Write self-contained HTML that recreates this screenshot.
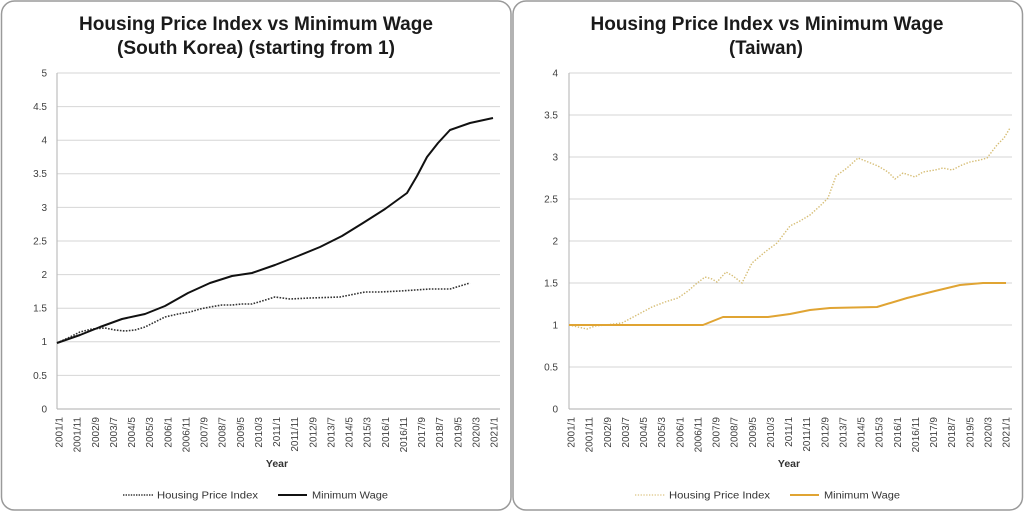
<!DOCTYPE html>
<html><head><meta charset="utf-8"><style>
html,body{margin:0;padding:0;background:#fff;}
svg{display:block;font-family:"Liberation Sans",sans-serif;}
</style></head><body>
<svg width="1024" height="512" viewBox="0 0 1024 512" xmlns="http://www.w3.org/2000/svg">
<rect x="0" y="0" width="1024" height="512" fill="#fff"/>
<rect x="1.5" y="1" width="509.5" height="509" rx="13" ry="13" fill="#fff" stroke="#9a9a9a" stroke-width="1.5"/>
<rect x="513" y="1" width="509.5" height="509" rx="13" ry="13" fill="#fff" stroke="#9a9a9a" stroke-width="1.5"/>

<!-- LEFT CHART -->
<g font-weight="bold" fill="#1a1a1a" font-size="19" text-anchor="middle">
<text x="256" y="30" textLength="354" lengthAdjust="spacingAndGlyphs">Housing Price Index vs Minimum Wage</text>
<text x="256" y="54" textLength="278" lengthAdjust="spacingAndGlyphs">(South Korea) (starting from 1)</text>
</g>
<g stroke="#d6d6d6" stroke-width="1">
<line x1="57" y1="73" x2="500" y2="73"/>
<line x1="57" y1="106.6" x2="500" y2="106.6"/>
<line x1="57" y1="140.2" x2="500" y2="140.2"/>
<line x1="57" y1="173.8" x2="500" y2="173.8"/>
<line x1="57" y1="207.4" x2="500" y2="207.4"/>
<line x1="57" y1="241" x2="500" y2="241"/>
<line x1="57" y1="274.6" x2="500" y2="274.6"/>
<line x1="57" y1="308.2" x2="500" y2="308.2"/>
<line x1="57" y1="341.8" x2="500" y2="341.8"/>
<line x1="57" y1="375.4" x2="500" y2="375.4"/>
</g>
<g stroke="#bdbdbd" stroke-width="1.2">
<line x1="57" y1="73" x2="57" y2="409"/>
<line x1="57" y1="409" x2="500" y2="409"/>
</g>
<g font-size="10" fill="#404040" text-anchor="end">
<text x="47" y="76.5">5</text>
<text x="47" y="110">4.5</text>
<text x="47" y="143.5">4</text>
<text x="47" y="177">3.5</text>
<text x="47" y="211">3</text>
<text x="47" y="244.5">2.5</text>
<text x="47" y="278">2</text>
<text x="47" y="311.5">1.5</text>
<text x="47" y="345">1</text>
<text x="47" y="379">0.5</text>
<text x="47" y="412.5">0</text>
</g>
<g font-size="10" fill="#404040" text-anchor="end">
<text transform="translate(62.5,417) rotate(-90)">2001/1</text>
<text transform="translate(80.6,417) rotate(-90)">2001/11</text>
<text transform="translate(98.8,417) rotate(-90)">2002/9</text>
<text transform="translate(116.9,417) rotate(-90)">2003/7</text>
<text transform="translate(135,417) rotate(-90)">2004/5</text>
<text transform="translate(153.1,417) rotate(-90)">2005/3</text>
<text transform="translate(171.3,417) rotate(-90)">2006/1</text>
<text transform="translate(189.4,417) rotate(-90)">2006/11</text>
<text transform="translate(207.5,417) rotate(-90)">2007/9</text>
<text transform="translate(225.6,417) rotate(-90)">2008/7</text>
<text transform="translate(243.8,417) rotate(-90)">2009/5</text>
<text transform="translate(261.9,417) rotate(-90)">2010/3</text>
<text transform="translate(280,417) rotate(-90)">2011/1</text>
<text transform="translate(298.1,417) rotate(-90)">2011/11</text>
<text transform="translate(316.3,417) rotate(-90)">2012/9</text>
<text transform="translate(334.4,417) rotate(-90)">2013/7</text>
<text transform="translate(352.5,417) rotate(-90)">2014/5</text>
<text transform="translate(370.6,417) rotate(-90)">2015/3</text>
<text transform="translate(388.8,417) rotate(-90)">2016/1</text>
<text transform="translate(406.9,417) rotate(-90)">2016/11</text>
<text transform="translate(425,417) rotate(-90)">2017/9</text>
<text transform="translate(443.1,417) rotate(-90)">2018/7</text>
<text transform="translate(461.3,417) rotate(-90)">2019/5</text>
<text transform="translate(479.4,417) rotate(-90)">2020/3</text>
<text transform="translate(497.5,417) rotate(-90)">2021/1</text>
</g>
<text x="277" y="467" font-size="10.5" font-weight="bold" fill="#333" text-anchor="middle">Year</text>
<polyline fill="none" stroke="#333" stroke-width="1.6" stroke-dasharray="1.6 1.4" points="57,343 70,337 80,332 92,329 105,328 115,330 125,331 135,330 145,327 155,322 165,317 178,314 190,312 200,309 210,307 222,305 232,305 242,304 252,304 262,301 275,297 290,299 310,298 340,297 355,294 365,292 380,292 400,291 415,290 430,289 450,289 460,286 470,283"/>
<polyline fill="none" stroke="#111" stroke-width="2" stroke-linejoin="round" points="57,343 80,335 100,327 122,319 145,314 165,306 188,293 210,283 232,276 252,273 275,265 298,256 320,247 342,236 363,223 385,209 407,193 417,176 427,157 438,143 450,130 470,123 493,118"/>
<line x1="123" y1="495" x2="153" y2="495" stroke="#333" stroke-width="1.4" stroke-dasharray="1.4 1.2"/>
<line x1="278" y1="495" x2="307" y2="495" stroke="#111" stroke-width="2"/>
<g font-size="10" fill="#333">
<text x="157" y="498.5" textLength="101" lengthAdjust="spacingAndGlyphs">Housing Price Index</text>
<text x="312" y="498.5" textLength="76" lengthAdjust="spacingAndGlyphs">Minimum Wage</text>
</g>

<!-- RIGHT CHART -->
<g font-weight="bold" fill="#1a1a1a" font-size="19" text-anchor="middle">
<text x="767" y="30" textLength="353" lengthAdjust="spacingAndGlyphs">Housing Price Index vs Minimum Wage</text>
<text x="766" y="54" textLength="74" lengthAdjust="spacingAndGlyphs">(Taiwan)</text>
</g>
<g stroke="#d6d6d6" stroke-width="1">
<line x1="569" y1="73" x2="1012" y2="73"/>
<line x1="569" y1="115" x2="1012" y2="115"/>
<line x1="569" y1="157" x2="1012" y2="157"/>
<line x1="569" y1="199" x2="1012" y2="199"/>
<line x1="569" y1="241" x2="1012" y2="241"/>
<line x1="569" y1="283" x2="1012" y2="283"/>
<line x1="569" y1="325" x2="1012" y2="325"/>
<line x1="569" y1="367" x2="1012" y2="367"/>
</g>
<g stroke="#bdbdbd" stroke-width="1.2">
<line x1="569" y1="73" x2="569" y2="409"/>
<line x1="569" y1="409" x2="1012" y2="409"/>
</g>
<g font-size="10" fill="#404040" text-anchor="end">
<text x="558" y="76.5">4</text>
<text x="558" y="118.5">3.5</text>
<text x="558" y="160.5">3</text>
<text x="558" y="202.5">2.5</text>
<text x="558" y="244.5">2</text>
<text x="558" y="286.5">1.5</text>
<text x="558" y="328.5">1</text>
<text x="558" y="370.5">0.5</text>
<text x="558" y="412.5">0</text>
</g>
<g font-size="10" fill="#404040" text-anchor="end">
<text transform="translate(574.5,417) rotate(-90)">2001/1</text>
<text transform="translate(592.6,417) rotate(-90)">2001/11</text>
<text transform="translate(610.8,417) rotate(-90)">2002/9</text>
<text transform="translate(628.9,417) rotate(-90)">2003/7</text>
<text transform="translate(647,417) rotate(-90)">2004/5</text>
<text transform="translate(665.1,417) rotate(-90)">2005/3</text>
<text transform="translate(683.3,417) rotate(-90)">2006/1</text>
<text transform="translate(701.4,417) rotate(-90)">2006/11</text>
<text transform="translate(719.5,417) rotate(-90)">2007/9</text>
<text transform="translate(737.6,417) rotate(-90)">2008/7</text>
<text transform="translate(755.8,417) rotate(-90)">2009/5</text>
<text transform="translate(773.9,417) rotate(-90)">2010/3</text>
<text transform="translate(792,417) rotate(-90)">2011/1</text>
<text transform="translate(810.1,417) rotate(-90)">2011/11</text>
<text transform="translate(828.3,417) rotate(-90)">2012/9</text>
<text transform="translate(846.4,417) rotate(-90)">2013/7</text>
<text transform="translate(864.5,417) rotate(-90)">2014/5</text>
<text transform="translate(882.6,417) rotate(-90)">2015/3</text>
<text transform="translate(900.8,417) rotate(-90)">2016/1</text>
<text transform="translate(918.9,417) rotate(-90)">2016/11</text>
<text transform="translate(937,417) rotate(-90)">2017/9</text>
<text transform="translate(955.1,417) rotate(-90)">2018/7</text>
<text transform="translate(973.3,417) rotate(-90)">2019/5</text>
<text transform="translate(991.4,417) rotate(-90)">2020/3</text>
<text transform="translate(1009.5,417) rotate(-90)">2021/1</text>
</g>
<text x="789" y="467" font-size="10.5" font-weight="bold" fill="#333" text-anchor="middle">Year</text>
<polyline fill="none" stroke="#d6bd74" stroke-width="1.4" stroke-dasharray="1.4 1.6" points="569,325 578,327 587,329 595,326 605,325 622,323 637,315 652,307 665,302 678,298 688,291 696,284 705,277 712,279 717,282 726,272 733,276 742,283 752,263 765,252 777,243 790,226 800,221 810,215 820,206 828,198 836,176 847,168 858,158 868,162 878,166 888,172 895,179 903,173 915,177 923,172 935,170 943,168 952,170 962,165 970,162 980,160 987,158 997,145 1004,138 1010,128"/>
<polyline fill="none" stroke="#e0a433" stroke-width="2" stroke-linejoin="round" points="569,325 703,325 723,317 768,317 790,314 810,310 830,308 877,307 907,298 935,291 960,285 983,283 1006,283"/>
<line x1="635" y1="495" x2="665" y2="495" stroke="#dcc482" stroke-width="1.3" stroke-dasharray="1.3 1.5"/>
<line x1="790" y1="495" x2="819" y2="495" stroke="#e0a433" stroke-width="2"/>
<g font-size="10" fill="#333">
<text x="669" y="498.5" textLength="101" lengthAdjust="spacingAndGlyphs">Housing Price Index</text>
<text x="824" y="498.5" textLength="76" lengthAdjust="spacingAndGlyphs">Minimum Wage</text>
</g>
</svg>
</body></html>
